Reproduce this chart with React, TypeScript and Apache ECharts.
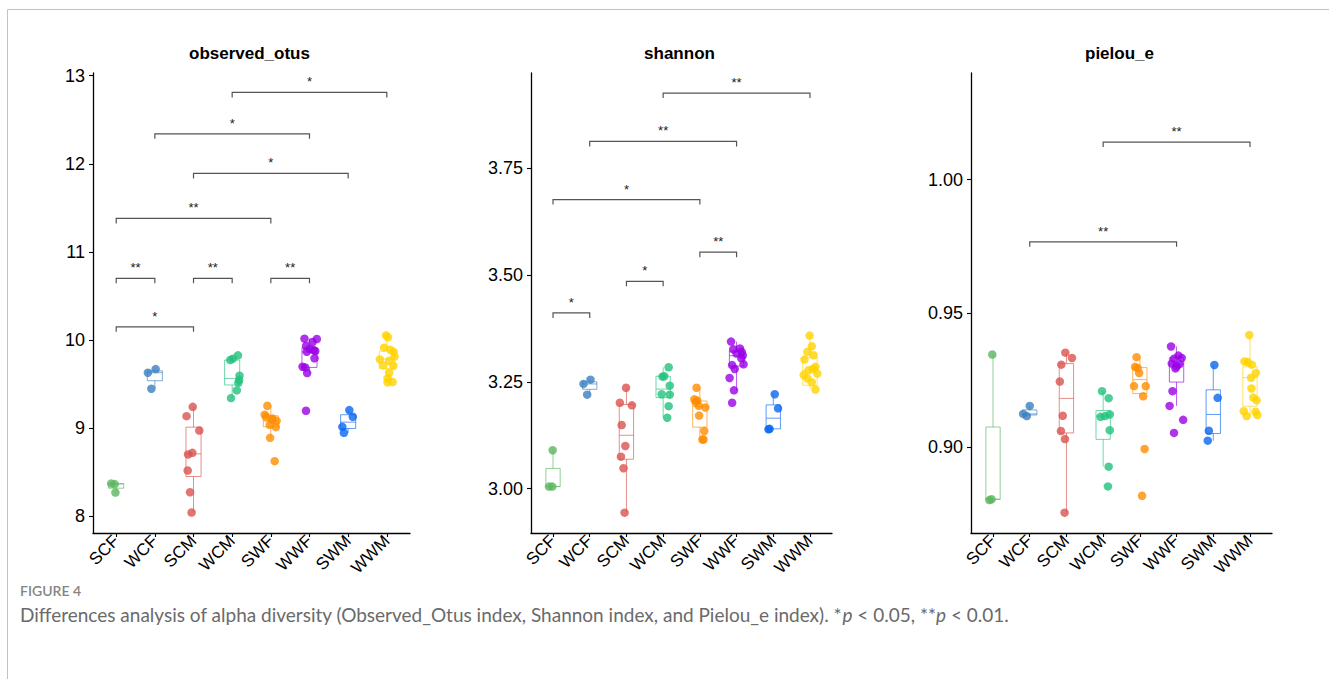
import React, { useEffect, useRef } from "react";
import * as echarts from "echarts";

const categories = ["SCF", "WCF", "SCM", "WCM", "SWF", "WWF", "SWM", "WWM"];
const groupColors = ["#5BB55F", "#3A7FBF", "#D9534F", "#22C27C", "#FF8C00", "#9B00E6", "#0A66F0", "#FFD300"];
const panelTitles = ["observed_otus", "shannon", "pielou_e"];

// ---------- observed_otus ----------
const otusValues = [
  [8.371, 8.365, 8.269],
  [9.629, 9.67, 9.447],
  [9.242, 9.136, 8.973, 8.701, 8.72, 8.519, 8.273, 8.042],
  [9.773, 9.788, 9.826, 9.595, 9.545, 9.515, 9.428, 9.341],
  [9.254, 9.152, 9.129, 9.11, 9.095, 9.083, 9.038, 9.011, 8.89, 8.625],
  [10.015, 10.011, 9.977, 9.932, 9.898, 9.886, 9.875, 9.867, 9.792, 9.697, 9.689, 9.625, 9.197],
  [9.205, 9.129, 9.015, 8.947],
  [10.053, 10.03, 9.913, 9.89, 9.864, 9.811, 9.78, 9.765, 9.712, 9.708, 9.629, 9.564, 9.523, 9.519],
];
const otusJitter = [
  [-0.13, -0.04, -0.02],
  [-0.18, 0.02, -0.09],
  [-0.02, -0.18, 0.15, -0.14, -0.03, -0.15, -0.09, -0.05],
  [-0.05, 0.02, 0.15, 0.19, 0.18, 0.16, 0.12, -0.03],
  [-0.09, -0.16, -0.12, 0.04, 0.03, 0.15, -0.03, 0.13, -0.02, 0.1],
  [-0.13, 0.19, 0.08, -0.09, 0.01, 0.11, 0.15, -0.07, 0.13, -0.18, -0.11, -0.06, -0.09],
  [0.03, 0.12, -0.15, -0.11],
  [-0.02, 0.03, -0.07, 0.09, 0.18, 0.2, -0.18, 0.06, -0.09, 0.17, 0.06, 0.02, 0.15, 0.02],
];
// [low whisker, q1, median, q3, high whisker]
const otusBoxes = [
  [8.269, 8.318, 8.365, 8.371, 8.371],
  [9.447, 9.538, 9.629, 9.65, 9.67],
  [8.042, 8.451, 8.708, 9.011, 9.242],
  [9.341, 9.49, 9.564, 9.773, 9.826],
  [8.89, 9.015, 9.08, 9.14, 9.254],
  [9.625, 9.689, 9.864, 9.913, 10.015],
  [8.947, 8.996, 9.068, 9.152, 9.205],
  [9.519, 9.678, 9.784, 9.875, 10.053],
];
// [from group, to group, height, label]
const otusBrackets: [number, number, number, string][] = [
  [0, 1, 10.7, "**"],
  [2, 3, 10.7, "**"],
  [4, 5, 10.7, "**"],
  [0, 2, 10.15, "*"],
  [0, 4, 11.38, "**"],
  [2, 6, 11.89, "*"],
  [1, 5, 12.34, "*"],
  [3, 7, 12.81, "*"],
];
const otusTicks = [8, 9, 10, 11, 12, 13];

// ---------- shannon ----------
const shannonValues = [
  [3.005, 3.005, 3.09],
  [3.245, 3.255, 3.22],
  [3.236, 3.201, 3.195, 3.149, 3.1, 3.075, 3.048, 2.944],
  [3.262, 3.263, 3.284, 3.241, 3.221, 3.22, 3.193, 3.166],
  [3.236, 3.209, 3.206, 3.203, 3.194, 3.19, 3.171, 3.135, 3.115, 3.115],
  [3.344, 3.326, 3.328, 3.32, 3.316, 3.312, 3.305, 3.289, 3.291, 3.28, 3.259, 3.23, 3.201],
  [3.139, 3.14, 3.188, 3.221],
  [3.358, 3.333, 3.32, 3.312, 3.302, 3.285, 3.28, 3.277, 3.266, 3.258, 3.269, 3.249, 3.232],
];
const shannonJitter = [
  [-0.11, -0.02, -0.01],
  [-0.17, 0.02, -0.07],
  [-0.01, -0.18, 0.15, -0.13, -0.03, -0.15, -0.08, -0.05],
  [-0.02, 0.03, 0.15, 0.18, -0.04, 0.18, 0.15, 0.11],
  [-0.09, -0.15, -0.07, -0.11, -0.03, 0.15, -0.02, 0.12, 0.07, 0.1],
  [-0.15, -0.09, 0.09, 0.14, 0.0, 0.17, 0.13, -0.12, 0.19, -0.05, -0.19, -0.07, -0.12],
  [-0.13, -0.1, 0.13, 0.04],
  [-0.01, 0.05, -0.07, 0.1, -0.15, 0.15, 0.08, -0.04, -0.17, -0.07, 0.2, 0.05, 0.15],
];
const shannonBoxes = [
  [3.005, 3.005, 3.005, 3.0475, 3.09],
  [3.22, 3.2325, 3.245, 3.25, 3.255],
  [2.944, 3.069, 3.125, 3.197, 3.236],
  [3.166, 3.213, 3.233, 3.263, 3.284],
  [3.115, 3.144, 3.192, 3.205, 3.236],
  [3.23, 3.287, 3.311, 3.322, 3.344],
  [3.139, 3.14, 3.165, 3.196, 3.221],
  [3.232, 3.242, 3.277, 3.307, 3.358],
];
const shannonBrackets: [number, number, number, string][] = [
  [0, 1, 3.411, "*"],
  [2, 3, 3.485, "*"],
  [4, 5, 3.553, "**"],
  [0, 4, 3.676, "*"],
  [1, 5, 3.812, "**"],
  [3, 7, 3.925, "**"],
];
const shannonTicks = [3.0, 3.25, 3.5, 3.75];

// ---------- pielou_e ----------
const pielouValues = [
  [0.9346, 0.8802, 0.8805],
  [0.9154, 0.9124, 0.9116],
  [0.9353, 0.9333, 0.9308, 0.9245, 0.9117, 0.906, 0.903, 0.8755],
  [0.9209, 0.9183, 0.9113, 0.9116, 0.9122, 0.9063, 0.8927, 0.8853],
  [0.9336, 0.93, 0.9296, 0.9277, 0.9228, 0.9228, 0.919, 0.8993, 0.8818],
  [0.9376, 0.9342, 0.933, 0.9333, 0.9312, 0.9302, 0.931, 0.9294, 0.9209, 0.9154, 0.9102, 0.9053],
  [0.9307, 0.9184, 0.9061, 0.9024],
  [0.9419, 0.932, 0.9318, 0.9308, 0.9277, 0.9259, 0.9219, 0.9185, 0.9175, 0.9134, 0.9116, 0.9132, 0.912],
];
const pielouJitter = [
  [-0.02, -0.1, -0.04],
  [0.0, -0.18, -0.08],
  [-0.03, 0.15, -0.14, -0.18, -0.1, -0.15, -0.04, -0.05],
  [-0.03, 0.15, -0.07, 0.05, 0.18, 0.18, 0.15, 0.13],
  [-0.09, -0.13, -0.06, -0.02, -0.16, 0.16, 0.09, 0.13, 0.06],
  [-0.15, 0.05, -0.07, 0.14, -0.13, 0.0, 0.08, -0.03, -0.11, -0.19, 0.18, -0.07],
  [0.03, 0.12, -0.12, -0.15],
  [-0.02, -0.15, -0.06, 0.05, 0.16, 0.03, 0.04, 0.09, 0.18, -0.17, -0.09, 0.15, 0.2],
];
const pielouBoxes = [
  [0.8802, 0.8805, 0.8805, 0.9075, 0.9346],
  [0.9116, 0.912, 0.9124, 0.9139, 0.9154],
  [0.8755, 0.9053, 0.9182, 0.9312, 0.9353],
  [0.8927, 0.9029, 0.9116, 0.9137, 0.9209],
  [0.919, 0.92, 0.9252, 0.9297, 0.9336],
  [0.9154, 0.9243, 0.931, 0.9334, 0.9376],
  [0.9024, 0.9051, 0.9122, 0.9214, 0.9307],
  [0.9116, 0.9153, 0.926, 0.93, 0.9419],
];
const pielouBrackets: [number, number, number, string][] = [
  [1, 5, 0.9767, "**"],
  [3, 7, 1.014, "**"],
];
const pielouTicks = [0.9, 0.95, 1.0];

const CHART_FONT = "Liberation Sans";

type Panel = {
  values: number[][];
  jitter: number[][];
  boxes: number[][];
  brackets: [number, number, number, string][];
  ticks: number[];
  min: number;
  max: number;
  decimals: number;
  grid: { left: number; width: number };
};

const panels: Panel[] = [
  { values: otusValues, jitter: otusJitter, boxes: otusBoxes, brackets: otusBrackets, ticks: otusTicks, min: 7.81, max: 13.03, decimals: 0, grid: { left: 93, width: 317 } },
  { values: shannonValues, jitter: shannonJitter, boxes: shannonBoxes, brackets: shannonBrackets, ticks: shannonTicks, min: 2.8965, max: 3.972, decimals: 2, grid: { left: 531, width: 301 } },
  { values: pielouValues, jitter: pielouJitter, boxes: pielouBoxes, brackets: pielouBrackets, ticks: pielouTicks, min: 0.8679, max: 1.0398, decimals: 2, grid: { left: 971, width: 301 } },
];

const BOX_WIDTH = 0.39;
const TIP = 5;

function buildOption() {
  const grids: any[] = [];
  const xAxes: any[] = [];
  const yAxes: any[] = [];
  const series: any[] = [];
  const graphics: any[] = [];

  graphics.push({
    type: "rect",
    silent: true,
    shape: { x: 7.5, y: 9.5, width: 1400, height: 800 },
    style: { fill: "none", stroke: "#c2c2c2", lineWidth: 1 },
  });

  panels.forEach((p, i) => {
    grids.push({ left: p.grid.left, width: p.grid.width, top: 73, bottom: 146, containLabel: false });
    const catIdx = categories.map((_, k) => k);
    xAxes.push({
      type: "value",
      gridIndex: i,
      min: -0.6,
      max: 7.6,
      splitLine: { show: false },
      axisLine: { show: true, onZero: false, lineStyle: { color: "#000", width: 1.3 } },
      axisTick: { show: true, customValues: catIdx, length: 4, lineStyle: { color: "#000", width: 1.1 } },
      axisLabel: {
        customValues: catIdx,
        formatter: (v: number) => categories[Math.round(v)],
        rotate: 45,
        fontSize: 17,
        fontFamily: CHART_FONT,
        color: "#000",
        margin: 5,
      },
    });
    yAxes.push({
      type: "value",
      gridIndex: i,
      min: p.min,
      max: p.max,
      splitLine: { show: false },
      axisLine: { show: true, onZero: false, lineStyle: { color: "#000", width: 1.3 } },
      axisTick: { show: true, customValues: p.ticks, length: 4, lineStyle: { color: "#000", width: 1.1 } },
      axisLabel: {
        customValues: p.ticks,
        formatter: (v: number) => v.toFixed(p.decimals),
        fontSize: 18,
        fontFamily: CHART_FONT,
        color: "#000",
        margin: 8,
      },
    });

    // boxes
    series.push({
      type: "custom",
      xAxisIndex: i,
      yAxisIndex: i,
      z: 2,
      silent: true,
      encode: { x: 0, y: [1, 2, 3, 4, 5] },
      data: p.boxes.map((b, g) => [g, ...b]),
      renderItem: (params: any, api: any) => {
        const x = api.value(0);
        const low = api.value(1), q1 = api.value(2), med = api.value(3), q3 = api.value(4), high = api.value(5);
        const h = BOX_WIDTH / 2;
        const tl = api.coord([x - h, q3]);
        const br = api.coord([x + h, q1]);
        const mL = api.coord([x - h, med]);
        const mR = api.coord([x + h, med]);
        const cHigh = api.coord([x, high]);
        const cQ3 = api.coord([x, q3]);
        const cQ1 = api.coord([x, q1]);
        const cLow = api.coord([x, low]);
        const color = groupColors[params.dataIndex];
        const st = { stroke: color, lineWidth: 1, opacity: 0.65, fill: "none" };
        return {
          type: "group",
          children: [
            { type: "line", shape: { x1: cHigh[0], y1: cHigh[1], x2: cQ3[0], y2: cQ3[1] }, style: st },
            { type: "line", shape: { x1: cQ1[0], y1: cQ1[1], x2: cLow[0], y2: cLow[1] }, style: st },
            { type: "rect", shape: { x: tl[0], y: tl[1], width: br[0] - tl[0], height: br[1] - tl[1] }, style: { ...st, fill: "rgba(255,255,255,0)" } },
            { type: "line", shape: { x1: mL[0], y1: mL[1], x2: mR[0], y2: mR[1] }, style: st },
          ],
        };
      },
    });

    // points
    const pts: any[] = [];
    p.values.forEach((vals, g) => {
      vals.forEach((v, k) => {
        pts.push({ value: [g + p.jitter[g][k], v], itemStyle: { color: groupColors[g] } });
      });
    });
    series.push({
      type: "scatter",
      xAxisIndex: i,
      yAxisIndex: i,
      z: 3,
      symbolSize: 8.5,
      silent: true,
      data: pts,
    });

    // significance brackets
    const br = p.brackets;
    series.push({
      type: "custom",
      xAxisIndex: i,
      yAxisIndex: i,
      z: 4,
      silent: true,
      encode: { x: [0, 1], y: 2 },
      data: br.map((b) => [b[0], b[1], b[2]]),
      renderItem: (params: any, api: any) => {
        const a = api.coord([api.value(0), api.value(2)]);
        const b = api.coord([api.value(1), api.value(2)]);
        const label = br[params.dataIndex][3];
        return {
          type: "group",
          children: [
            {
              type: "polyline",
              shape: { points: [[a[0], a[1] + TIP], [a[0], a[1]], [b[0], b[1]], [b[0], b[1] + TIP]] },
              style: { stroke: "#555", lineWidth: 1.2, fill: "none" },
            },
            {
              type: "text",
              x: (a[0] + b[0]) / 2,
              y: a[1] - 4,
              style: { text: label, fontSize: 13, fontFamily: CHART_FONT, fill: "#222", align: "center", verticalAlign: "bottom" },
            },
          ],
        };
      },
    });

    graphics.push({
      type: "text",
      x: p.grid.left + p.grid.width / 2 - 2,
      y: 53,
      style: {
        text: panelTitles[i],
        font: `bold 17px "${CHART_FONT}"`,
        fill: "#000",
        align: "center",
        verticalAlign: "middle",
      },
    });
  });

  graphics.push({
    type: "text",
    x: 20,
    y: 590,
    style: { text: "FIGURE 4", font: '600 14px "Lato"', fill: "#858585", align: "left", verticalAlign: "middle" },
  });
  graphics.push({
    type: "text",
    x: 20,
    y: 614,
    style: {
      text:
        "{n|Differences analysis of alpha diversity (Observed_Otus index, Shannon index, and Pielou_e index). *}{i|p}{n| < 0.05, **}{i|p}{n| < 0.01.}",
      align: "left",
      verticalAlign: "middle",
      rich: {
        n: { fontSize: 19, fontFamily: "Lato", fill: "#6a6a6a", color: "#6a6a6a" },
        i: { fontSize: 19, fontFamily: "Lato", fontStyle: "italic", fill: "#6a6a6a", color: "#6a6a6a" },
      },
    },
  });

  return {
    animation: false,
    backgroundColor: "#fff",
    grid: grids,
    xAxis: xAxes,
    yAxis: yAxes,
    series,
    graphic: graphics,
  };
}

export default function App() {
  const ref = useRef<HTMLDivElement>(null);
  useEffect(() => {
    if (!ref.current) return;
    const chart = echarts.init(ref.current, undefined, { renderer: "svg" });
    chart.setOption(buildOption());
    return () => chart.dispose();
  }, []);
  return (
    <div
      ref={ref}
      style={{ position: "fixed", left: 0, top: 0, width: 1329, height: 679, background: "#fff" }}
    />
  );
}
